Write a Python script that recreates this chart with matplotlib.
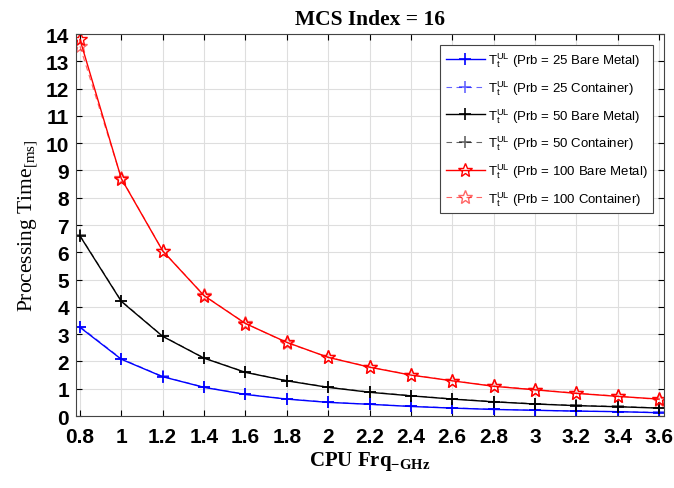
import matplotlib
matplotlib.use("Agg")
import matplotlib.pyplot as plt

plt.rcParams["mathtext.fontset"] = "custom"
plt.rcParams["mathtext.rm"] = "Liberation Serif"
plt.rcParams["mathtext.bf"] = "Liberation Serif:bold"
plt.rcParams["mathtext.sf"] = "Liberation Sans"

freq = [0.8, 1.0, 1.2, 1.4, 1.6, 1.8, 2.0, 2.2, 2.4, 2.6, 2.8, 3.0, 3.2, 3.4, 3.6]

prb25_bm = [3.25, 2.08, 1.44, 1.05, 0.79, 0.62, 0.50, 0.43, 0.35, 0.29, 0.24, 0.21, 0.18, 0.16, 0.12]
prb25_ct = [3.28, 2.10, 1.45, 1.06, 0.80, 0.63, 0.51, 0.43, 0.36, 0.30, 0.25, 0.21, 0.18, 0.16, 0.13]
prb50_bm = [6.60, 4.20, 2.92, 2.12, 1.60, 1.29, 1.05, 0.87, 0.74, 0.62, 0.52, 0.44, 0.38, 0.34, 0.29]
prb50_ct = [6.62, 4.22, 2.93, 2.13, 1.61, 1.30, 1.06, 0.88, 0.75, 0.63, 0.53, 0.45, 0.39, 0.35, 0.30]
prb100_bm = [13.80, 8.70, 6.05, 4.41, 3.39, 2.70, 2.15, 1.79, 1.50, 1.29, 1.09, 0.96, 0.83, 0.72, 0.62]
prb100_ct = [13.55, 8.72, 6.06, 4.42, 3.40, 2.68, 2.16, 1.80, 1.51, 1.30, 1.10, 0.97, 0.84, 0.73, 0.60]

xticks = [0.8, 1, 1.2, 1.4, 1.6, 1.8, 2, 2.2, 2.4, 2.6, 2.8, 3, 3.2, 3.4, 3.6]
xticklabels = ["0.8", "1", "1.2", "1.4", "1.6", "1.8", "2", "2.2", "2.4", "2.6", "2.8", "3", "3.2", "3.4", "3.6"]

fig = plt.figure(figsize=(6.74, 4.89), dpi=100)
ax = fig.add_axes([0.1128, 0.1472, 0.8724, 0.7812])

lbl = r"T$_{\mathsf{t}}^{\mathsf{UL}}$ (Prb = %s)"
plus = dict(marker="+", ms=9, mew=1.2)
star = dict(marker="*", ms=10, mfc="none", mew=1)
dash = dict(ls="--", dashes=(5, 4), lw=0.8, alpha=0.6)
ax.plot(freq, prb25_bm, "-", color="blue", lw=1, label=lbl % "25 Bare Metal", **plus)
ax.plot(freq, prb25_ct, color="blue", label=lbl % "25 Container", **dash, **plus)
ax.plot(freq, prb50_bm, "-", color="black", lw=1, label=lbl % "50 Bare Metal", **plus)
ax.plot(freq, prb50_ct, color="black", label=lbl % "50 Container", **dash, **plus)
ax.plot(freq, prb100_bm, "-", color="red", lw=1, label=lbl % "100 Bare Metal", **star)
ax.plot(freq, prb100_ct, color="red", label=lbl % "100 Container", **dash, **star)

ax.set_xlim(0.781, 3.624)
ax.set_ylim(0, 14)
ax.set_xticks(xticks)
ax.set_xticklabels(xticklabels)
ax.set_yticks(range(0, 15))
ax.tick_params(direction="in", top=True, right=True, length=4, width=0.8)
ax.tick_params(axis="x", pad=8)
ax.tick_params(axis="y", pad=5)
for t in ax.get_xticklabels() + ax.get_yticklabels():
    t.set_fontfamily("Liberation Sans")
    t.set_fontweight("bold")
    t.set_fontsize(15)
ax.grid(True, color="#dedede", lw=0.8)
for s in ax.spines.values():
    s.set_color("#444444")
    s.set_linewidth(0.8)

ax.set_title("MCS Index = 16", fontfamily="Liberation Serif", fontweight="bold", fontsize=15.5, pad=7)
ax.set_xlabel(r"CPU Frq$_{\mathbf{-GHz}}$", fontfamily="Liberation Serif", fontweight="bold",
              fontsize=15, labelpad=2)
ax.set_ylabel(r"Processing Time$_{\mathrm{[ms]}}$", fontfamily="Liberation Serif",
              fontsize=15.5, labelpad=4)

leg = ax.legend(loc="upper right", prop={"family": "Liberation Sans", "size": 9.5},
                fancybox=False, edgecolor="#444444", framealpha=1,
                handlelength=3.0, handletextpad=0.2, labelspacing=0.68,
                borderaxespad=0.85, borderpad=0.4)
leg.get_frame().set_linewidth(0.8)

fig.savefig("out.png", dpi=100)
